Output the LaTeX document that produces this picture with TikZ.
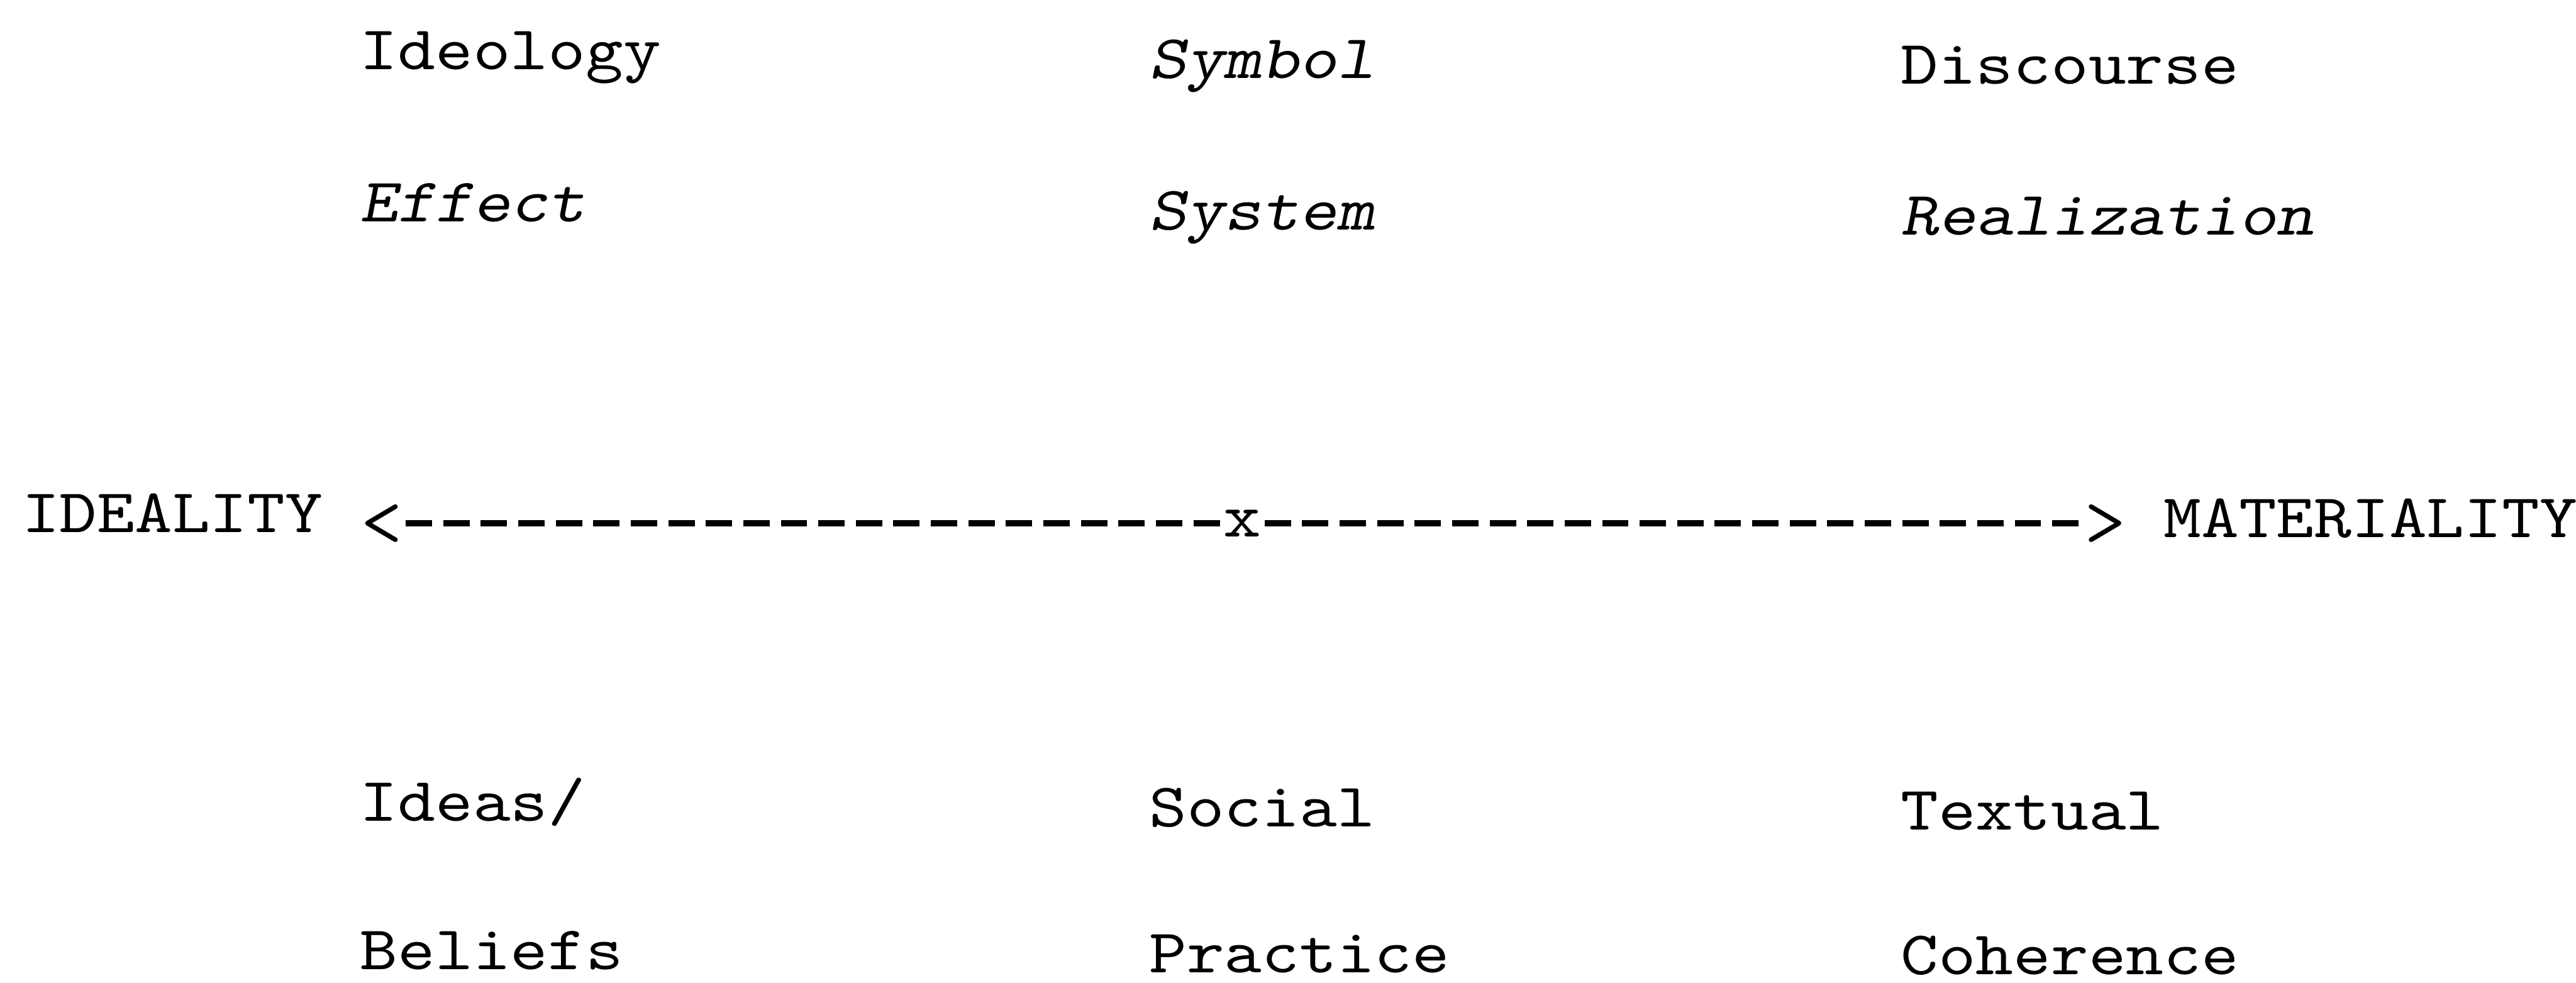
\documentclass[tikz,border=0pt]{standalone}
\usepackage{fontspec}
\newfontfamily\typefont{lmmono10-regular.otf}[FakeStretch=1.153]
\newfontfamily\typeslant{lmmonoslant10-regular.otf}[FakeStretch=1.153]
\usetikzlibrary{arrows.meta,decorations.markings}

\begin{document}
\begin{tikzpicture}[x=7.263pt, y=7.263pt,
	every node/.style={font={\fontsize{12}{14}\typefont}, inner sep=0pt},
	word/.style={anchor=base west},
	slanted/.style={word, font={\fontsize{12}{14}\typeslant}},
	arm/.style={line width=1.2pt, dash pattern=on 5.1pt off 2.15pt, shorten >=15.7pt,
		postaction={decorate, decoration={markings,
			mark=at position -8pt with {\pgfsetdash{}{0pt}\arrow{Straight Barb[length=5.4pt,width=6.4pt,line width=0.9pt,round]}}}}}]
	
	\useasboundingbox (-0.56,0) rectangle (68,26.15);
	
	% top rows
	\node[word] (ideology) at (9,24.30) {Ideology};
	\node[slanted] (symbol) at (30,24.06) {Symbol};
	\node[word] (discourse) at (50,23.92) {Discourse};
	\node[slanted] (effect) at (9,20.25) {Effect};
	\node[slanted] (system) at (30,20.03) {System};
	\node[slanted] (realization) at (50,19.89) {Realization};
	
	% axis
	\node[word] (ideality) at (0,11.98) {IDEALITY};
	\node[anchor=base, inner sep=0.5pt] (cross) at (32.5,11.87) {x};
	\node[word] (materiality) at (57,11.84) {MATERIALITY};
	\draw[arm] (cross.west) -- (cross.west -| ideality.east);
	\draw[arm] (cross.east) -- (cross.east -| materiality.west);
	
	% bottom rows
	\node[word] (ideas) at (9,4.30) {Ideas/};
	\node[word] (social) at (30,4.15) {Social};
	\node[word] (textual) at (50,4.06) {Textual};
	\node[word] (beliefs) at (9,0.34) {Beliefs};
	\node[word] (practice) at (30,0.26) {Practice};
	\node[word] (coherence) at (50,0.22) {Coherence};
	
\end{tikzpicture}
\end{document}
